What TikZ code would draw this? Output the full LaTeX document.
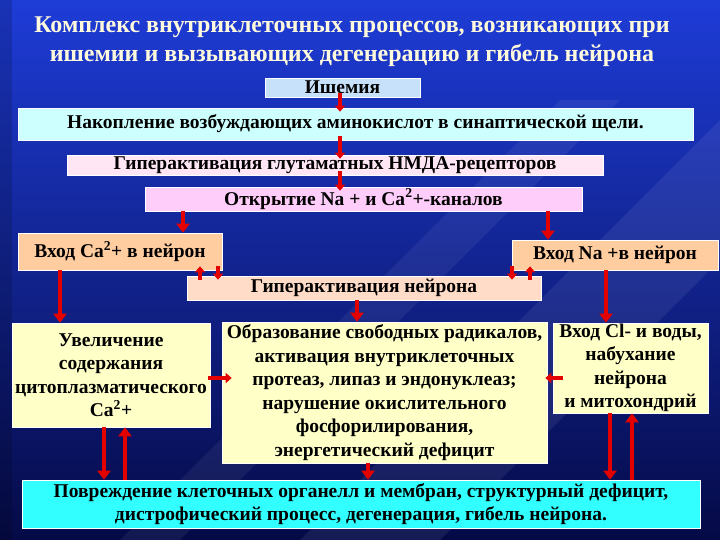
\documentclass[tikz,border=0pt]{standalone}
\usepackage{fontspec}
\setmainfont{Liberation Serif}
\usetikzlibrary{arrows.meta,calc}
\definecolor{bgtop}{RGB}{30,60,215}
\definecolor{bgbot}{RGB}{5,10,70}
\tikzset{
 box/.style={draw=white,line width=0.6pt,inner sep=1pt,align=center,font=\bfseries\fontsize{19.5}{23}\selectfont,text=black},
 arr/.style={draw=red!90!black,line width=4.5pt,-{Triangle[length=9pt,width=13pt]}},
 sarr/.style={draw=red!90!black,line width=4pt,-{Triangle[length=6pt,width=10pt]}},
 ov/.style={shorten <=-4pt,shorten >=-4pt},
}
\begin{document}
\begin{tikzpicture}[x=1pt,y=-1pt]
\useasboundingbox (0,0) rectangle (720,540);
\shade[top color=bgtop,bottom color=bgbot] (0,0) rectangle (720,540);
\fill[white,opacity=0.07] (300,540) -- (720,120) -- (720,260) -- (440,540) -- cycle;
\fill[white,opacity=0.06] (120,540) -- (560,100) -- (620,100) -- (180,540) -- cycle;
\fill[black,opacity=0.15] (0,0) rectangle (12,540);
\node[text={rgb,255:red,255;green,250;blue,220},align=center,font=\bfseries\fontsize{24}{29}\selectfont] (title) at (352,42) {Комплекс внутриклеточных процессов, возникающих при\\ишемии и вызывающих дегенерацию и гибель нейрона};
\node[box,fill={rgb,255:red,200;green,225;blue,250},minimum width=155,minimum height=19] (isch) at (342.5,87.5) {Ишемия};
\node[box,fill={rgb,255:red,205;green,255;blue,255},minimum width=675,minimum height=32] (nak) at (355.5,124) {Накопление возбуждающих аминокислот в синаптической щели.};
\node[box,fill={rgb,255:red,255;green,230;blue,245},minimum width=536,minimum height=20] (glu) at (335,165) {Гиперактивация глутаматных НМДА-рецепторов};
\node[box,fill={rgb,255:red,255;green,205;blue,250},minimum width=437,minimum height=24] (otk) at (363.5,199) {Открытие Na + и Ca\textsuperscript{2}+-каналов};
\node[box,fill={rgb,255:red,255;green,205;blue,160},minimum width=204,minimum height=37] (ca) at (120,251.5) {Вход Ca\textsuperscript{2}+ в нейрон};
\node[box,fill={rgb,255:red,255;green,205;blue,160},minimum width=206,minimum height=30] (na) at (615,255) {Вход Na +в нейрон};
\node[box,fill={rgb,255:red,255;green,220;blue,200},minimum width=354,minimum height=24] (hyp) at (364,288) {Гиперактивация нейрона};
\node[box,fill={rgb,255:red,255;green,255;blue,200},minimum width=198,minimum height=104,font=\bfseries\fontsize{19.5}{23.5}\selectfont] (uv) at (111,375) {Увеличение\\содержания\\цитоплазматического\\Ca\textsuperscript{2}+};
\node[box,fill={rgb,255:red,255;green,255;blue,200},minimum width=325,minimum height=141,font=\bfseries\fontsize{19.5}{23.5}\selectfont] (obr) at (384.5,392.5) {Образование свободных радикалов,\\активация внутриклеточных\\протеаз, липаз и эндонуклеаз;\\нарушение окислительного\\фосфорилирования,\\энергетический дефицит};
\node[box,fill={rgb,255:red,255;green,255;blue,200},minimum width=155,minimum height=90,font=\bfseries\fontsize{19.5}{23.5}\selectfont] (cl) at (630.5,368) {Вход Cl- и воды,\\набухание\\нейрона\\и митохондрий};
\node[box,fill={rgb,255:red,50;green,255;blue,255},minimum width=678,minimum height=48,font=\bfseries\fontsize{19.5}{23}\selectfont] (dam) at (361,504) {Повреждение клеточных органелл и мембран, структурный дефицит,\\дистрофический процесс, дегенерация, гибель нейрона.};
% arrows
\draw[sarr,ov] (isch.south -| 340,0) -- (nak.north -| 340,0);
\draw[sarr,ov] (nak.south -| 340,0) -- (glu.north -| 340,0);
\draw[sarr,ov] (glu.south -| 340,0) -- (otk.north -| 340,0);
\draw[arr] (otk.south -| 183,0) -- (ca.north -| 183,0);
\draw[arr] (otk.south -| 548,0) -- (na.north -| 548,0);
\draw[sarr,ov] (hyp.north -| 200,0) -- (ca.south -| 200,0);
\draw[sarr,ov] (ca.south -| 218,0) -- (hyp.north -| 218,0);
\draw[sarr,ov] (na.south -| 512,0) -- (hyp.north -| 512,0);
\draw[sarr,ov] (hyp.north -| 530,0) -- (na.south -| 530,0);
\draw[arr] (ca.south -| 60,0) -- (uv.north -| 60,0);
\draw[arr] (hyp.south -| 357,0) -- (obr.north -| 357,0);
\draw[arr] (na.south -| 606,0) -- (cl.north -| 606,0);
\draw[sarr,shorten <=-2pt,shorten >=-10pt] (uv.east |- 0,378) -- (obr.west |- 0,378);
\draw[sarr,shorten <=-10pt,shorten >=-2pt] (cl.west |- 0,378) -- (obr.east |- 0,378);
\draw[arr] (uv.south -| 104,0) -- (dam.north -| 104,0);
\draw[arr] (dam.north -| 125,0) -- (uv.south -| 125,0);
\draw[arr] (obr.south -| 368,0) -- (dam.north -| 368,0);
\draw[arr] (cl.south -| 610,0) -- (dam.north -| 610,0);
\draw[arr] (dam.north -| 632,0) -- (cl.south -| 632,0);
\end{tikzpicture}
\end{document}
